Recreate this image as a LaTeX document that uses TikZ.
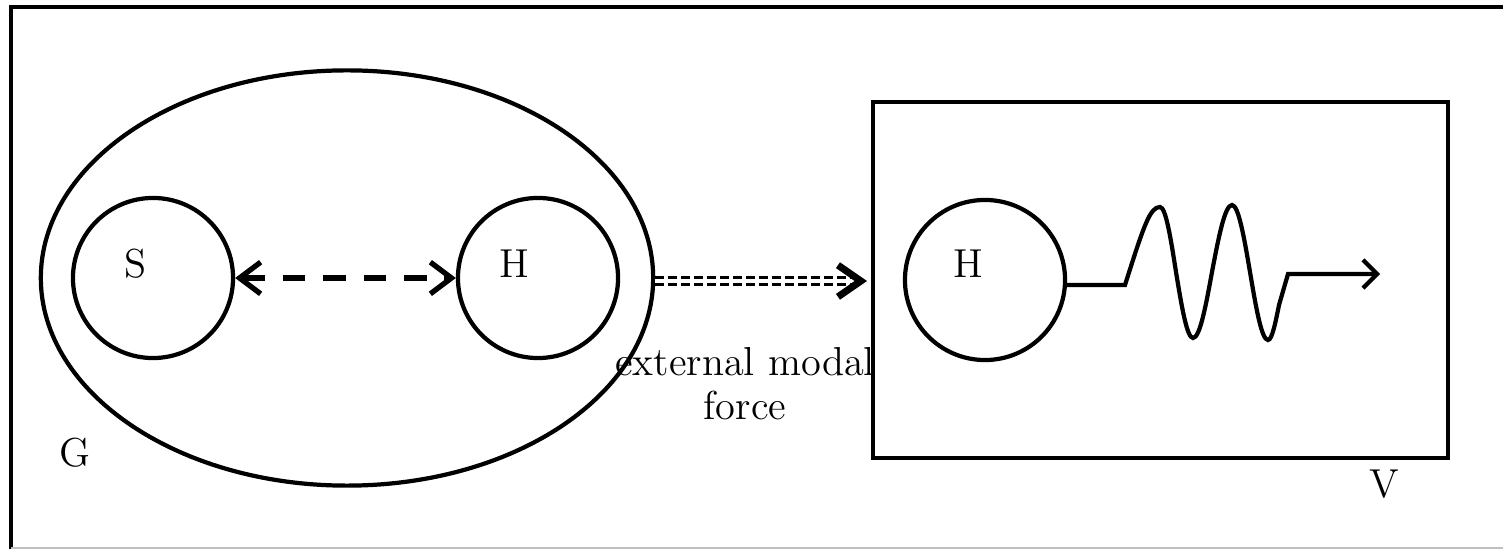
\documentclass[tikz,border=0pt]{standalone}
\usepackage{tikz}
\usetikzlibrary{shapes,arrows.meta,calc,positioning}

\tikzset{
  ring/.style={draw=black, line width=1.2pt, circle, minimum size=1.6cm, inner sep=0pt},
  lbl/.style={font=\fontsize{11.5}{14}\selectfont, inner sep=0pt},
}

\begin{document}
\begin{tikzpicture}[x=0.01cm, y=-0.01cm]
        \useasboundingbox (0,0) rectangle (1503,549);
        % frame
        \draw[line width=1.3pt] (1520,7) -- (11,7) -- (11,549);
        \draw[gray!50, thin] (11,548) -- (1503,548);
        % left group
        \node[draw, line width=1.2pt, ellipse, minimum width=6.12cm, minimum height=4.15cm, inner sep=0pt] (g) at (347,278) {};
        \node[ring] (s) at (153,278) {};
        \node[ring] (h) at (538,278) {};
        \node[lbl] (slbl) at (135,264) {S};
        \node[lbl] (hlbl) at (514,264) {H};
        \node[lbl] (glbl) at (75,453) {G};
        \draw[{Straight Barb[length=6pt,width=9pt]}-{Straight Barb[length=6pt,width=9pt]}, line width=1.5pt, dash pattern=on 6.5pt off 5pt] (s) -- (h);
        % right box
        \draw[line width=1.3pt] (873,102) rectangle (1448,458);
        \coordinate (vw) at (873,281);
        \node[ring] (hv) at (985,280) {};
        \node[lbl] (hvlbl) at (968,264) {H};
        \node[lbl] (vlbl) at (1384,484) {V};
        % external force
        \draw[double, double distance=1.3pt, line width=0.8pt, dash pattern=on 2.4pt off 1.3pt] (g.east |- vw) -- ($(vw)+(-14,0)$);
        \draw[-{Straight Barb[length=6.5pt,width=9pt]}, line width=2pt] ($(vw)+(-14,0)$) -- ($(vw)+(-6,0)$);
        \node[lbl, align=center, font=\fontsize{11.5}{12.5}\selectfont] (force) at (745,384) {external modal\\force};
        % wave
        \draw[line width=1.2pt, -{Straight Barb[length=4pt,width=8pt]}] (hv.east |- 0,285) -- (1125,285) .. controls (1144,225) and (1150,207) .. (1160,207) cos (1176,272) sin (1193,338) cos (1212,272) sin (1232,205) cos (1250,272) sin (1268,340) cos (1279,305) -- (1288,274) -- (1380,274);
      \end{tikzpicture}
\end{document}
